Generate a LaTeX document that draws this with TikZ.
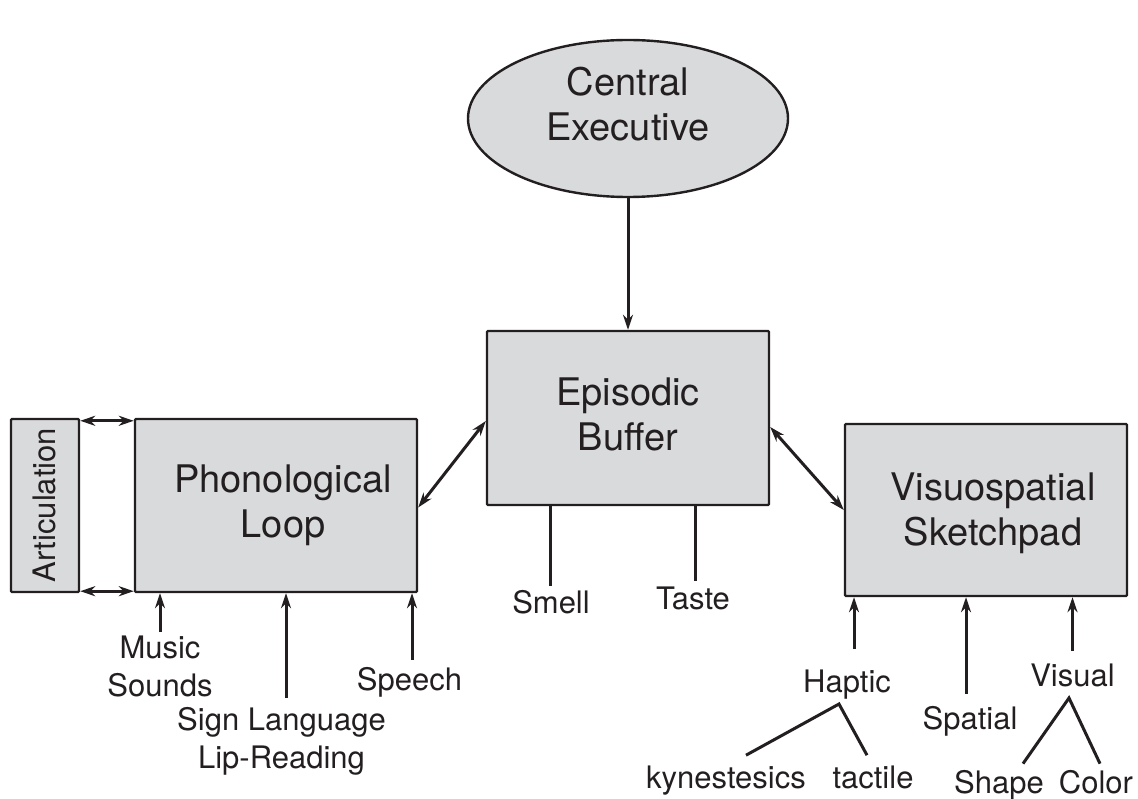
\documentclass[tikz,border=0pt]{standalone}
\usepackage{fontspec}
\setmainfont{TeX Gyre Heros}
\usetikzlibrary{shapes.geometric,arrows.meta}
\definecolor{boxgray}{RGB}{217,218,220}
\definecolor{inkgray}{RGB}{35,31,32}

\begin{document}
\begin{tikzpicture}[x=1pt,y=-1pt,
    box/.style={draw=inkgray,fill=boxgray,line width=2.4pt,inner sep=0pt,rounded corners=1pt},
    bigtext/.style={inner sep=0pt,align=center,text=inkgray,font=\fontsize{38}{45}\selectfont},
    smalltext/.style={inner sep=2pt,align=center,text=inkgray,font=\fontsize{31}{38}\selectfont},
    link/.style={draw=inkgray,line width=3pt},
    arrowto/.style={link,-{Stealth[length=15pt,width=10pt]}},
    arrowboth/.style={link,{Stealth[length=15pt,width=10pt]}-{Stealth[length=15pt,width=10pt]}}]
    \useasboundingbox (0,0) rectangle (1138,799);

    % draw the components
    \node[box,ellipse,minimum width=320pt,minimum height=157pt] (ce) at (628,118.5) {};
    \node[box,minimum width=282pt,minimum height=174pt] (buf) at (628,418) {};
    \node[box,minimum width=282pt,minimum height=173pt] (phon) at (276,505.5) {};
    \node[box,minimum width=68pt,minimum height=173pt] (art) at (45,505.5) {};
    \node[box,minimum width=282pt,minimum height=172pt] (vis) at (986,510) {};

    % place component names
    \node[bigtext,anchor=north] (cetxt) at (628,67) {Central\\Executive};
    \node[bigtext,anchor=north] (buftxt) at (628,378) {Episodic\\Buffer};
    \node[bigtext,anchor=north] (phontxt) at (283,465) {Phonological\\Loop};
    \node[bigtext,anchor=north] (vistxt) at (993,473) {Visuospatial\\Sketchpad};
    \node[smalltext,inner sep=0pt,rotate=90] (arttxt) at (44,505) {Articulation};

    % place input labels
    \node[smalltext,anchor=base] (smell) at (551,613) {Smell};
    \node[smalltext,anchor=base] (taste) at (693,609) {Taste};
    \node[smalltext,anchor=north] (music) at (160,634) {Music\\Sounds};
    \node[smalltext,anchor=north] (sign) at (281.5,705) {Sign Language\\Lip-Reading};
    \node[smalltext,anchor=base] (speech) at (409.5,690) {Speech};
    \node[smalltext,anchor=base] (haptic) at (847,692) {Haptic};
    \node[smalltext,anchor=base] (spatial) at (970,729) {Spatial};
    \node[smalltext,anchor=base] (visual) at (1072.5,686) {Visual};
    \node[smalltext,anchor=base] (kyn) at (726,788) {kynestesics};
    \node[smalltext,anchor=base] (tactile) at (873,788) {tactile};
    \node[smalltext,anchor=base] (shape) at (999,793) {Shape};
    \node[smalltext,anchor=base] (color) at (1096,793) {Color};
    \coordinate (hapfork) at (839,704);
    \coordinate (visfork) at (1069,698);

    % draw the links between components
    \draw[arrowto] (ce.south) -- (buf.north);
    \draw[arrowboth] ([yshift=-3pt]art.north east) -- ([yshift=-3pt]phon.north west);
    \draw[arrowboth] ([yshift=2pt]art.south east) -- ([yshift=2pt]phon.south west);
    \draw[arrowboth] ([yshift=-2pt]phon.east) -- ([yshift=-3pt]buf.west);
    \draw[arrowboth] ([yshift=-9pt]buf.east) -- (vis.west);

    % draw the inputs
    \draw[link] ([xshift=-1pt,yshift=2pt]smell.north) -- ([xshift=-1pt]smell.north |- buf.south);
    \draw[link] ([xshift=2pt,yshift=3pt]taste.north) -- ([xshift=2pt]taste.north |- buf.south);
    \draw[arrowto] ([yshift=2pt]music.north) -- (music.north |- phon.south);
    \draw[arrowto] ([xshift=4.5pt,yshift=7pt]sign.north) -- ([xshift=4.5pt]sign.north |- phon.south);
    \draw[arrowto] ([xshift=2.5pt,yshift=5pt]speech.north) -- ([xshift=2.5pt]speech.north |- phon.south);
    \draw[arrowto] ([xshift=7pt,yshift=18pt]haptic.north) -- ([xshift=7pt]haptic.north |- vis.south);
    \draw[arrowto] ([xshift=-4pt,yshift=10pt]spatial.north) -- ([xshift=-4pt]spatial.north |- vis.south);
    \draw[arrowto] ([yshift=10pt]visual.north) -- (visual.north |- vis.south);

    % draw the branches
    \draw[link] ([xshift=20pt,yshift=8pt]kyn.north) -- (hapfork) -- ([xshift=-6pt,yshift=8pt]tactile.north);
    \draw[link] ([xshift=24pt,yshift=4pt]shape.north) -- (visfork) -- ([xshift=4pt,yshift=4pt]color.north);
\end{tikzpicture}
\end{document}
